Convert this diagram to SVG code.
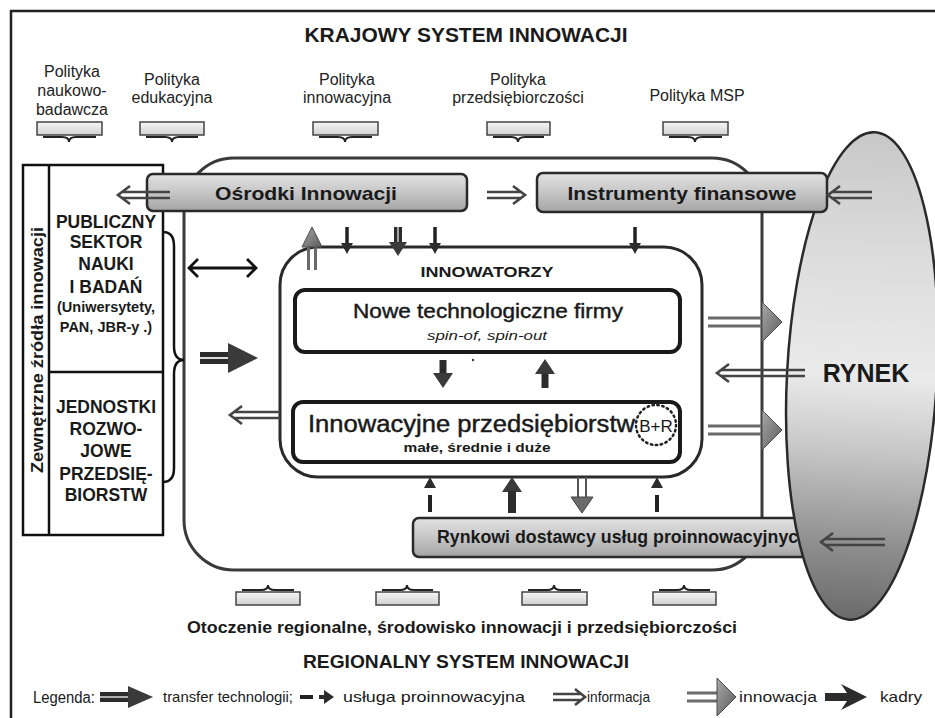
<svg xmlns="http://www.w3.org/2000/svg" width="935" height="718" viewBox="0 0 935 718">
<defs>
<linearGradient id="barGrad" x1="0" y1="0" x2="0" y2="1"><stop offset="0" stop-color="#e2e2e2"/><stop offset="0.5" stop-color="#c6c6c6"/><stop offset="1" stop-color="#a4a4a4"/></linearGradient>
<linearGradient id="polGrad" x1="0" y1="0" x2="0" y2="1"><stop offset="0" stop-color="#f6f6f6"/><stop offset="1" stop-color="#d2d2d2"/></linearGradient>
<linearGradient id="ellGrad" x1="0" y1="0" x2="0" y2="1"><stop offset="0" stop-color="#c8c8c8"/><stop offset="0.25" stop-color="#dcdcdc"/><stop offset="0.5" stop-color="#eaeaea"/><stop offset="0.65" stop-color="#c8c8c8"/><stop offset="0.85" stop-color="#8e8e8e"/><stop offset="1" stop-color="#6a6a6a"/></linearGradient>
<linearGradient id="headGrad" x1="0" y1="0" x2="1" y2="1"><stop offset="0" stop-color="#a8a8a8"/><stop offset="1" stop-color="#5c5c5c"/></linearGradient>
<style>
text{font-family:"Liberation Sans",Arial,sans-serif;fill:#1a1a1a}
.b{font-weight:bold}
.m{text-anchor:middle}
.pol{font-size:16px;text-anchor:middle;fill:#222}
.left{font-size:17.5px;font-weight:bold;text-anchor:middle}
.med{stroke:#1a1a1a;stroke-width:0.45}
.bar{fill:url(#barGrad);stroke:#2a2a2a;stroke-width:2.5}
.pbox{fill:url(#polGrad);stroke:#444;stroke-width:1.5}
.brace{fill:none;stroke:#222;stroke-width:2}
.info{fill:none;stroke:#444;stroke-width:2.6}
.dk{fill:#2c2c2c}
.hd{fill:#3a3a3a}
.inno{fill:url(#headGrad);stroke:#4a4a4a;stroke-width:1}
.ishaft{fill:none;stroke:#6a6a6a;stroke-width:3}
.leg{font-size:15px}
</style>
</defs>
<rect width="935" height="718" fill="#fff"/>
<rect x="11" y="11" width="940" height="730" fill="none" stroke="#222" stroke-width="2.5"/>

<text x="466" y="42" class="b m" font-size="20" textLength="323" lengthAdjust="spacingAndGlyphs">KRAJOWY SYSTEM INNOWACJI</text>

<g id="policies">
<g id="pol1"><text class="pol" x="72" y="77">Polityka</text><text class="pol" x="72" y="96">naukowo-</text><text class="pol" x="72" y="115">badawcza</text>
<rect class="pbox" x="37" y="122" width="65" height="13"/><path class="brace" d="M43,137 H62 Q69,137 69,142 Q69,137 76,137 H96"/></g>
<g id="pol2"><text class="pol" x="172" y="85">Polityka</text><text class="pol" x="172" y="103">edukacyjna</text>
<rect class="pbox" x="140" y="122" width="64" height="13"/><path class="brace" d="M146,137 H165 Q172,137 172,142 Q172,137 179,137 H198"/></g>
<g id="pol3"><text class="pol" x="347" y="85">Polityka</text><text class="pol" x="347" y="103">innowacyjna</text>
<rect class="pbox" x="313" y="122" width="65" height="13"/><path class="brace" d="M319,137 H338 Q345,137 345,142 Q345,137 352,137 H372"/></g>
<g id="pol4"><text class="pol" x="518" y="85">Polityka</text><text class="pol" x="518" y="103">przedsiębiorczości</text>
<rect class="pbox" x="487" y="122" width="63" height="13"/><path class="brace" d="M493,137 H511 Q518,137 518,142 Q518,137 525,137 H544"/></g>
<g id="pol5"><text class="pol" x="697" y="101">Polityka MSP</text>
<rect class="pbox" x="663" y="122" width="65" height="13"/><path class="brace" d="M669,137 H688 Q695,137 695,142 Q695,137 702,137 H722"/></g>
</g>

<g id="regional">
<rect x="184" y="158" width="578" height="412" rx="50" fill="none" stroke="#3a3a3a" stroke-width="3"/>
</g>

<g id="external">
<rect x="23" y="165" width="140" height="370" fill="#fff" stroke="#111" stroke-width="2.5"/>
<line x1="49" y1="165" x2="49" y2="535" stroke="#111" stroke-width="2.5"/>
<line x1="49" y1="372" x2="163" y2="372" stroke="#111" stroke-width="2.5"/>
<text transform="translate(43,350) rotate(-90)" class="b m" font-size="16" textLength="246" lengthAdjust="spacingAndGlyphs">Zewnętrzne źródła innowacji</text>
<path d="M163,232 Q174,232 174,246 V346 Q174,360 184,360 Q174,360 174,374 V468 Q174,482 163,482" fill="none" stroke="#111" stroke-width="2.5"/>
</g>
<g id="public">
<text class="left" x="106" y="228">PUBLICZNY</text>
<text class="left" x="106" y="248">SEKTOR</text>
<text class="left" x="106" y="270">NAUKI</text>
<text class="left" x="106" y="293">I BADAŃ</text>
<text class="b m" font-size="14.5" x="106" y="312">(Uniwersytety,</text>
<text class="b m" font-size="14.5" x="106" y="332">PAN,  JBR-y .)</text>
</g>
<g id="dev">
<text class="left" x="106" y="413">JEDNOSTKI</text>
<text class="left" x="106" y="435">ROZWO-</text>
<text class="left" x="106" y="457">JOWE</text>
<text class="left" x="106" y="480">PRZEDSIĘ-</text>
<text class="left" x="106" y="501">BIORSTW</text>
</g>

<g id="innowatorzy">
<rect x="280" y="247" width="422" height="230" rx="38" fill="#fff" stroke="#2a2a2a" stroke-width="3"/>
<text x="487" y="277" class="b m" font-size="15" textLength="133" lengthAdjust="spacingAndGlyphs">INNOWATORZY</text>
</g>
<g id="nowe">
<rect x="295" y="290" width="385" height="62" rx="10" fill="#fff" stroke="#1a1a1a" stroke-width="4"/>
<text x="488" y="318" class="m med" font-size="21" textLength="270" lengthAdjust="spacingAndGlyphs">Nowe technologiczne firmy</text>
<text x="487" y="340" class="m" font-size="13" font-style="italic" textLength="120" lengthAdjust="spacingAndGlyphs">spin-of, spin-out</text>
</g>
<g id="przeds">
<rect x="293" y="402" width="387" height="60" rx="10" fill="#fff" stroke="#1a1a1a" stroke-width="4"/>
<text x="308" y="432" class="med" font-size="23" textLength="327" lengthAdjust="spacingAndGlyphs">Innowacyjne przedsiębiorstw</text>
<circle cx="656" cy="425" r="20" fill="none" stroke="#222" stroke-width="2.5" stroke-dasharray="1.5 3.5" stroke-linecap="round"/>
<text x="656" y="432" class="m" font-size="17">B+R</text>
<text x="477" y="452" class="b m" font-size="13" textLength="147" lengthAdjust="spacingAndGlyphs">małe, średnie i duże</text>
</g>

<g id="osrodki">
<rect class="bar" x="147" y="174" width="320" height="37" rx="6"/>
<text x="306" y="200" class="b m" font-size="19" textLength="182" lengthAdjust="spacingAndGlyphs">Ośrodki Innowacji</text>
</g>
<g id="rynkowi">
<rect class="bar" x="413" y="518" width="420" height="39" rx="6"/>
<text x="437" y="543" class="b" font-size="18" textLength="372" lengthAdjust="spacingAndGlyphs">Rynkowi dostawcy usług proinnowacyjnych</text>
</g>
<g id="rynek">
<ellipse cx="862" cy="376" rx="75" ry="244" transform="rotate(3 862 376)" fill="url(#ellGrad)" stroke="#2a2a2a" stroke-width="2.5"/>
<text x="866" y="382" class="b m" font-size="25">RYNEK</text>
</g>
<g id="instrumenty">
<rect class="bar" x="537" y="173" width="290" height="39" rx="6"/>
<text x="682" y="200" class="b m" font-size="19" textLength="229" lengthAdjust="spacingAndGlyphs">Instrumenty finansowe</text>
</g>

<g id="connectors">
<path class="info" d="M122,192 H170 M122,198 H170 M130,186 L118,195 L130,204"/>
<path class="info" d="M487,192 H521 M487,198 H521 M513,186 L525,195 L513,204"/>
<path class="info" d="M832,192 H872 M832,198 H872 M840,186 L828,195 L840,204"/>
<path class="info" d="M234,412 H280 M234,418 H280 M242,406 L230,415 L242,424"/>
<path class="info" d="M721,370 H805 M721,376 H805 M729,364 L717,373 L729,382"/>
<path class="info" d="M825,539 H885 M825,545 H885 M833,533 L821,542 L833,551"/>
<path d="M189,268 H256 M198,259 L189,268 L198,277 M247,259 L256,268 L247,277" fill="none" stroke="#111" stroke-width="2.8"/>
<rect x="200" y="352" width="30" height="12" class="dk"/><line x1="200" y1="358" x2="230" y2="358" stroke="#ddd" stroke-width="2"/>
<polygon points="228,343 258,358 228,373" class="hd"/>
<path class="ishaft" d="M308.5,247 V270 M315.5,247 V270" stroke-width="2"/>
<polygon points="302,247 312,227 322,247" class="inno"/>
<line x1="347" y1="227" x2="347" y2="244" stroke="#222" stroke-width="3.5"/><polygon points="341,243 353,243 347,254" class="dk"/>
<rect x="394" y="227" width="8" height="16" class="dk"/><line x1="398" y1="227" x2="398" y2="243" stroke="#ccc" stroke-width="1.5"/><polygon points="389,242 407,242 398,256" class="hd"/>
<line x1="435" y1="227" x2="435" y2="244" stroke="#222" stroke-width="3.5"/><polygon points="429,243 441,243 435,254" class="dk"/>
<line x1="635" y1="227" x2="635" y2="244" stroke="#222" stroke-width="3.5"/><polygon points="629,243 641,243 635,254" class="dk"/>
<rect x="439.5" y="360" width="7" height="14" class="dk"/><polygon points="433,373 453,373 443,388" class="hd"/>
<circle cx="473" cy="360" r="1.2" fill="#333"/>
<rect x="541.5" y="373" width="7" height="15" class="dk"/><polygon points="535,374 555,374 545,359" class="hd"/>
<path class="ishaft" d="M708,318 H763 M708,326 H763"/><polygon points="762,302 782,322 762,342" class="inno"/>
<path class="ishaft" d="M708,426 H763 M708,434 H763"/><polygon points="762,410 782,430 762,450" class="inno"/>
<polygon points="424,488 436,488 430,477" class="dk"/><line x1="430" y1="495" x2="430" y2="512" stroke="#222" stroke-width="4"/>
<polygon points="502,492 522,492 512,477" class="hd"/><rect x="508" y="491" width="8" height="22" class="dk"/>
<path d="M578,477 V500 M586,477 V500" fill="none" stroke="#555" stroke-width="2"/><polygon points="571,497 593,497 582,513" fill="#6a6a6a" stroke="#444" stroke-width="1"/>
<polygon points="651,488 663,488 657,477" class="dk"/><line x1="657" y1="495" x2="657" y2="512" stroke="#222" stroke-width="4"/>
</g>

<g id="bottom-boxes">
<g><rect class="pbox" x="236" y="592" width="64" height="13"/><path class="brace" d="M242,590 H261 Q268,590 268,585 Q268,590 275,590 H294"/></g>
<g><rect class="pbox" x="376" y="592" width="63" height="13"/><path class="brace" d="M382,590 H400 Q407,590 407,585 Q407,590 414,590 H433"/></g>
<g><rect class="pbox" x="522" y="592" width="65" height="13"/><path class="brace" d="M528,590 H547 Q554,590 554,585 Q554,590 561,590 H581"/></g>
<g><rect class="pbox" x="653" y="592" width="63" height="13"/><path class="brace" d="M659,590 H677 Q684,590 684,585 Q684,590 691,590 H710"/></g>
</g>
<text x="462" y="633" class="b m" font-size="17" textLength="550" lengthAdjust="spacingAndGlyphs">Otoczenie regionalne, środowisko innowacji i przedsiębiorczości</text>
<text x="466" y="668" class="b m" font-size="18" textLength="326" lengthAdjust="spacingAndGlyphs">REGIONALNY SYSTEM INNOWACJI</text>

<g id="legend">
<text x="33" y="703" font-size="16" textLength="62" lengthAdjust="spacingAndGlyphs">Legenda:</text>
<rect x="100" y="692" width="30" height="10" class="dk"/><line x1="100" y1="697" x2="130" y2="697" stroke="#ddd" stroke-width="1.5"/><polygon points="128,686 153,697 128,708" class="hd"/>
<text x="163" y="702" class="leg" textLength="130" lengthAdjust="spacingAndGlyphs">transfer technologii;</text>
<line x1="300" y1="697" x2="313" y2="697" stroke="#222" stroke-width="4"/><rect x="319" y="695" width="6" height="4" class="dk"/><polygon points="324,690 334,697 324,704" class="dk"/>
<text x="343" y="702" class="leg" textLength="182" lengthAdjust="spacingAndGlyphs">usługa proinnowacyjna</text>
<path class="info" d="M553,694 H581 M553,700 H581 M575,689 L585,697 L575,705"/>
<text x="587" y="702" class="leg" textLength="63" lengthAdjust="spacingAndGlyphs">informacja</text>
<path class="ishaft" d="M687,693 H718 M687,701 H718"/><polygon points="717,678 736,697 717,716" class="inno"/>
<text x="739" y="702" class="leg" textLength="78" lengthAdjust="spacingAndGlyphs">innowacja</text>
<polygon points="825,693 847,693 841,684 867,697 841,710 847,701 825,701" class="dk"/>
<text x="880" y="702" class="leg" textLength="42" lengthAdjust="spacingAndGlyphs">kadry</text>
</g>
</svg>
